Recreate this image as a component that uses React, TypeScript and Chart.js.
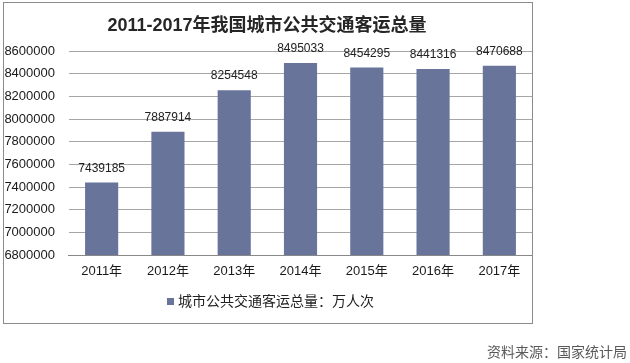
import React, { useEffect, useRef } from "react";
import { Chart, registerables } from "chart.js";

Chart.register(...registerables);

const categories = ["2011年", "2012年", "2013年", "2014年", "2015年", "2016年", "2017年"];
const values = [7439185, 7887914, 8254548, 8495033, 8454295, 8441316, 8470688];
const yMin = 6800000;
const yMax = 8600000;
const yStep = 200000;
const titleText = "2011-2017年我国城市公共交通客运总量";
const seriesName = "城市公共交通客运总量：万人次";
const sourceText = "资料来源：国家统计局";

const BAR_COLOR = "#69749B";
const FONT = "'Liberation Sans', 'Noto Sans CJK SC', sans-serif";

const decorPlugin = {
  id: "decor",
  afterDatasetsDraw(chart: any) {
    const ctx = chart.ctx;
    const meta = chart.getDatasetMeta(0);
    ctx.save();
    ctx.font = `12px ${FONT}`;
    ctx.fillStyle = "#222222";
    ctx.textAlign = "center";
    ctx.textBaseline = "middle";
    meta.data.forEach((el: any, i: number) => {
      ctx.fillText(String(values[i]), el.x, el.y - 14);
    });
    ctx.restore();
  },
  afterDraw(chart: any) {
    const ctx = chart.ctx;
    ctx.save();
    // frame
    ctx.strokeStyle = "#8c8c8c";
    ctx.lineWidth = 1;
    ctx.strokeRect(3.5, 2.5, 529, 321);
    // title
    ctx.font = `bold 18px ${FONT}`;
    ctx.fillStyle = "#262626";
    ctx.textAlign = "center";
    ctx.textBaseline = "middle";
    ctx.fillText(titleText, 267, 26);
    // legend
    ctx.fillStyle = BAR_COLOR;
    ctx.fillRect(167, 298, 7, 7);
    ctx.font = `14px ${FONT}`;
    ctx.fillStyle = "#222222";
    ctx.textAlign = "left";
    ctx.fillText(seriesName, 178, 302);
    // source
    ctx.font = `14px ${FONT}`;
    ctx.fillStyle = "#595959";
    ctx.textAlign = "right";
    ctx.fillText(sourceText, 627, 353);
    ctx.restore();
  },
};

export default function App() {
  const ref = useRef<HTMLCanvasElement | null>(null);
  useEffect(() => {
    if (!ref.current) return;
    const chart = new Chart(ref.current, {
      type: "bar",
      data: {
        labels: categories,
        datasets: [
          {
            label: seriesName,
            data: values,
            backgroundColor: BAR_COLOR,
            borderWidth: 0,
            categoryPercentage: 1,
            barPercentage: 0.5,
          },
        ],
      },
      options: {
        animation: false,
        responsive: false,
        devicePixelRatio: 1,
        layout: { padding: { left: 5, top: 51, right: 97.5, bottom: 68 } },
        plugins: {
          legend: { display: false },
          title: { display: false },
          tooltip: { enabled: false },
        },
        scales: {
          x: {
            grid: { display: false, drawTicks: false },
            border: { display: true, color: "#888888" },
            ticks: { padding: 9, color: "#1a1a1a", font: { size: 13, family: FONT } },
            afterFit: (scale: any) => {
              scale.height = 40;
            },
          },
          y: {
            min: yMin,
            max: yMax,
            grid: { color: "#a6a6a6", drawTicks: false },
            border: { display: false },
            ticks: {
              stepSize: yStep,
              padding: 13.5,
              color: "#1a1a1a",
              font: { size: 13, family: FONT },
              callback: (v: any) => String(v),
            },
            afterFit: (scale: any) => {
              scale.width = 63.5;
            },
          },
        },
      },
      plugins: [decorPlugin],
    });
    return () => chart.destroy();
  }, []);
  return (
    <div style={{ position: "absolute", left: 0, top: 0, width: 630, height: 363, background: "#fff" }}>
      <canvas ref={ref} width={630} height={363} />
    </div>
  );
}
